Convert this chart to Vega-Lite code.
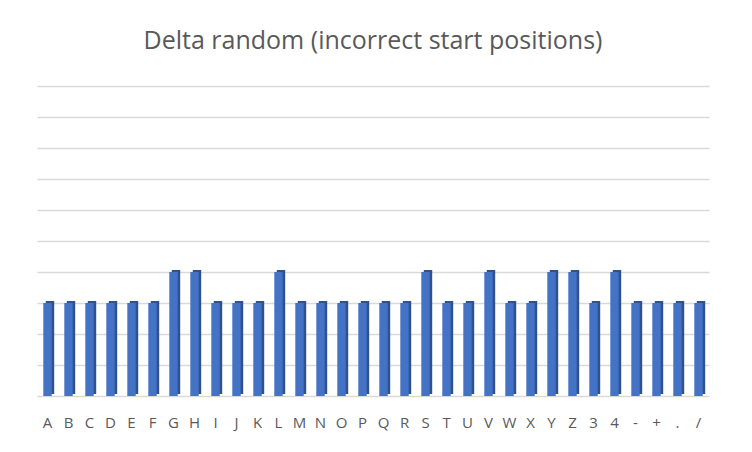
{
  "$schema": "https://vega.github.io/schema/vega-lite/v6.json",
  "width": 672,
  "height": 310,
  "autosize": "none",
  "padding": {"left": 37, "top": 86, "right": 43, "bottom": 56},
  "background": "#ffffff",
  "title": {
    "text": "Delta random (incorrect start positions)",
    "font": "Open Sans",
    "fontSize": 25,
    "fontWeight": "normal",
    "color": "#595959",
    "anchor": "middle",
    "offset": 32
  },
  "data": {
    "values": [
      {"key": "A", "delta": 3},
      {"key": "B", "delta": 3},
      {"key": "C", "delta": 3},
      {"key": "D", "delta": 3},
      {"key": "E", "delta": 3},
      {"key": "F", "delta": 3},
      {"key": "G", "delta": 4},
      {"key": "H", "delta": 4},
      {"key": "I", "delta": 3},
      {"key": "J", "delta": 3},
      {"key": "K", "delta": 3},
      {"key": "L", "delta": 4},
      {"key": "M", "delta": 3},
      {"key": "N", "delta": 3},
      {"key": "O", "delta": 3},
      {"key": "P", "delta": 3},
      {"key": "Q", "delta": 3},
      {"key": "R", "delta": 3},
      {"key": "S", "delta": 4},
      {"key": "T", "delta": 3},
      {"key": "U", "delta": 3},
      {"key": "V", "delta": 4},
      {"key": "W", "delta": 3},
      {"key": "X", "delta": 3},
      {"key": "Y", "delta": 4},
      {"key": "Z", "delta": 4},
      {"key": "3", "delta": 3},
      {"key": "4", "delta": 4},
      {"key": "-", "delta": 3},
      {"key": "+", "delta": 3},
      {"key": ".", "delta": 3},
      {"key": "/", "delta": 3}
    ]
  },
  "encoding": {
    "x": {
      "field": "key",
      "type": "nominal",
      "sort": null,
      "scale": {"paddingInner": 0.6, "paddingOuter": 0.3},
      "axis": {
        "title": null,
        "labelAngle": 0,
        "labelFont": "Open Sans",
        "labelFontSize": 15,
        "labelColor": "#595959",
        "labelPadding": 19,
        "ticks": false,
        "domain": false
      }
    },
    "y": {
      "field": "delta",
      "type": "quantitative",
      "scale": {"domain": [0, 10]},
      "axis": {
        "title": null,
        "labels": false,
        "ticks": false,
        "domain": false,
        "values": [0, 1, 2, 3, 4, 5, 6, 7, 8, 9, 10],
        "grid": true,
        "gridColor": "#d9d9d9",
        "gridWidth": 1.5
      }
    }
  },
  "layer": [
    {
      "mark": {"type": "bar", "color": "#2f528f", "xOffset": 2.5, "yOffset": -2}
    },
    {
      "mark": {"type": "bar", "color": "#4472c4"}
    }
  ],
  "config": {
    "view": {"stroke": null}
  }
}
